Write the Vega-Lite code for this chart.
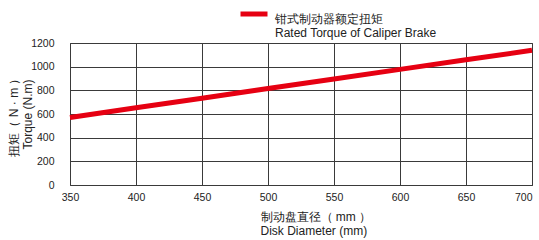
{
  "$schema": "https://vega.github.io/schema/vega-lite/v6.json",
  "width": 462,
  "height": 142,
  "autosize": {"type": "none"},
  "padding": {"left": 70, "top": 43, "right": 7, "bottom": 55},
  "background": "white",
  "data": {"values": [
    {"d": 350, "t": 570, "s": "钳式制动器额定扭矩"},
    {"d": 400, "t": 652, "s": "钳式制动器额定扭矩"},
    {"d": 450, "t": 733, "s": "钳式制动器额定扭矩"},
    {"d": 500, "t": 815, "s": "钳式制动器额定扭矩"},
    {"d": 550, "t": 896, "s": "钳式制动器额定扭矩"},
    {"d": 600, "t": 977, "s": "钳式制动器额定扭矩"},
    {"d": 650, "t": 1058, "s": "钳式制动器额定扭矩"},
    {"d": 700, "t": 1138, "s": "钳式制动器额定扭矩"}
  ]},
  "mark": {"type": "line", "strokeWidth": 5, "strokeCap": "butt"},
  "encoding": {
    "x": {
      "field": "d", "type": "quantitative",
      "scale": {"domain": [350, 700], "nice": false, "zero": false},
      "axis": {
        "values": [350, 400, 450, 500, 550, 600, 650, 700],
        "format": "d",
        "title": ["制动盘直径（ mm ）", "Disk Diameter (mm)"],
        "titleFontSize": 12, "titleFontWeight": "normal", "titleColor": "#222",
        "titleAlign": "left", "titleBaseline": "top", "titleAnchor": "start",
        "titleX": 190, "titleY": 26, "titleLineHeight": 14,
        "labelFontSize": 10.5, "labelColor": "#222", "labelPadding": 7,
        "labelFlush": false,
        "labelAlign": {"condition": {"test": "datum.value == 700", "value": "right"}, "value": "center"},
        "ticks": false, "domain": false,
        "grid": true, "gridColor": "#3a3a3a", "gridWidth": 1, "gridOpacity": 1
      }
    },
    "y": {
      "field": "t", "type": "quantitative",
      "scale": {"domain": [0, 1200], "nice": false},
      "axis": {
        "values": [0, 200, 400, 600, 800, 1000, 1200],
        "format": "d",
        "title": ["扭矩（ N · m ）", "Torque (N.m)"],
        "titleFontSize": 12, "titleFontWeight": "normal", "titleColor": "#222",
        "titleAlign": "center", "titleBaseline": "bottom", "titleAngle": -90,
        "titleX": -50, "titleY": 71, "titleLineHeight": 14,
        "labelFontSize": 10.5, "labelColor": "#222", "labelPadding": 16,
        "ticks": false, "domain": false,
        "grid": true, "gridColor": "#3a3a3a", "gridWidth": 1, "gridOpacity": 1
      }
    },
    "color": {
      "field": "s", "type": "nominal",
      "scale": {"range": ["#e60012"]},
      "legend": {
        "orient": "none", "legendX": 168, "legendY": -45,
        "title": null, "padding": 0,
        "symbolType": "stroke", "symbolSize": 729, "symbolStrokeWidth": 5,
        "labelExpr": "['钳式制动器额定扭矩', 'Rated Torque of Caliper Brake']",
        "labelFontSize": 12, "labelColor": "#222", "labelOffset": 5,
        "labelBaseline": "top", "labelLimit": 300
      }
    }
  },
  "config": {
    "font": "Liberation Sans",
    "view": {"stroke": "#3a3a3a", "strokeWidth": 1}
  }
}
